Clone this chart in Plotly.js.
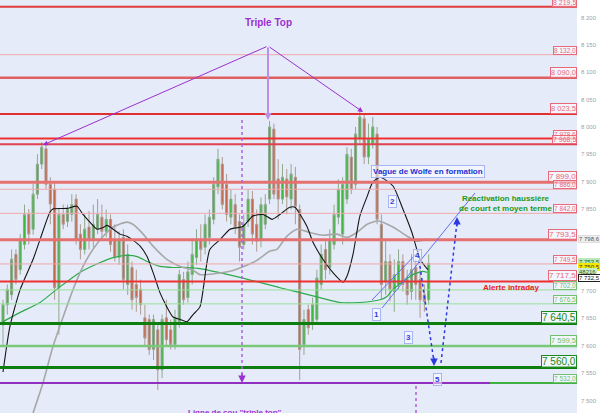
<!DOCTYPE html>
<html><head><meta charset="utf-8">
<script src="https://cdn.plot.ly/plotly-3.0.1.min.js"></script>
<style>html,body{margin:0;padding:0;background:#fff;}#chart{width:600px;height:413px;}</style>
</head><body><div id="chart"></div>
<script>
// ---- candle data (bar index 0..99) ----
const open  = [7638,7675,7693,7767,7739,7785,7840,7813,7877,7932,
7960,7895,7886,7706,7840,7827,7840,7868,7804,7776,
7817,7794,7813,7835,7809,7831,7794,7761,7798,7712,
7743,7712,7703,7651,7648,7593,7629,7556,7651,7629,
7602,7644,7721,7688,7730,7761,7794,7780,7798,7831,
7890,7932,7895,7835,7858,7827,7785,7827,7868,7822,
7794,7822,7868,7996,7905,7868,7905,7868,7908,7849,
7602,7666,7644,7648,7712,7776,7743,7785,7835,7804,
7868,7945,7895,7978,8015,7945,7969,7987,7822,7717,
7754,7699,7712,7754,7721,7699,7743,7721,7693,7684];
const high  = [7684,7712,7776,7776,7804,7858,7850,7896,7950,7972,
7969,7908,7901,7850,7858,7858,7877,7877,7822,7840,
7846,7858,7868,7858,7849,7840,7822,7809,7813,7785,
7754,7739,7721,7675,7657,7657,7638,7657,7684,7648,
7666,7739,7735,7754,7794,7813,7822,7840,7849,7908,
7960,7945,7914,7886,7877,7840,7840,7886,7883,7849,
7871,7877,8011,8006,7941,7932,7923,7932,7927,7858,
7666,7675,7688,7739,7785,7794,7813,7858,7904,7908,
7963,7960,8000,8029,8024,8006,8018,8000,7840,7794,
7767,7758,7776,7767,7739,7767,7758,7739,7712,7767];
const low   = [7601,7657,7684,7712,7730,7776,7785,7803,7868,7923,
7886,7822,7684,7620,7813,7817,7827,7785,7758,7767,
7776,7780,7804,7794,7798,7772,7754,7748,7703,7693,
7666,7662,7657,7601,7583,7574,7519,7541,7601,7593,
7593,7633,7675,7679,7712,7748,7754,7767,7785,7822,
7877,7849,7827,7822,7804,7754,7776,7817,7785,7772,
7780,7813,7859,7868,7831,7859,7840,7849,7822,7537,
7583,7620,7629,7638,7703,7721,7730,7776,7822,7785,
7859,7877,7886,7969,7932,7932,7960,7822,7684,7693,
7681,7662,7703,7699,7675,7684,7684,7651,7662,7675];
const close = [7675,7703,7758,7721,7794,7840,7804,7877,7932,7963,
7895,7859,7706,7840,7822,7849,7858,7794,7776,7813,
7794,7822,7840,7809,7831,7785,7761,7794,7721,7767,
7684,7688,7675,7614,7593,7648,7556,7648,7611,7602,
7651,7730,7684,7735,7767,7794,7776,7822,7835,7895,
7941,7858,7840,7868,7817,7780,7822,7868,7804,7791,
7858,7858,8000,7877,7868,7908,7872,7914,7855,7593,
7648,7633,7675,7724,7767,7739,7794,7840,7886,7895,
7950,7886,7987,8018,7945,7978,8000,7831,7712,7754,
7703,7730,7754,7712,7693,7739,7712,7684,7681,7750.5];

// ---- moving averages ----
const maShortX = [0,1.6,4.0,7.0,8.6,10.9,11.6,14.9,17.2,18.6,20.2,21.9,23.3,24.2,25.6,27.2,28.8,30.2,31.9,33.5,34.9,36.5,38.1,39.5,41.2,42.8,44.2,45.8,48.1,50.5,52.8,55.8,58.1,60.5,62.6,64.4,66.7,67.9,69.1,70.7,72.1,73.0,74.4,76.7,79.1,80.0,81.4,83.0,84.7,86.0,87.7,90.7,93.0,95.1,97.0,98.8];
const maShortY = [7552,7635,7703,7758,7794,7844,7850,7851,7855,7840,7826,7813,7816,7820,7813,7804,7800,7793,7782,7763,7734,7697,7671,7653,7648,7644,7657,7671,7776,7794,7813,7818,7837,7840,7831,7840,7853,7853,7840,7818,7789,7776,7758,7734,7716,7727,7767,7837,7873,7899,7908,7892,7850,7807,7758,7739];
const maMidX = [5.8,7.0,9.3,11.6,14.0,16.3,18.6,20.9,23.3,25.6,28.8,30.2,32.6,34.9,38.1,41.2,44.2,45.8,52.8,58.6,62.1,63.7,66.0,68.4,71.4,74.4,77.7,80.0,82.3,84.7,87.2,90.7,94.0,96.3,98.6];
const maMidY = [7445,7477,7532,7598,7653,7703,7745,7776,7800,7817,7826,7822,7804,7782,7758,7745,7738,7730,7736,7754,7773,7776,7800,7813,7807,7802,7804,7798,7807,7822,7828,7817,7800,7791,7795];
const maLongX = [0,4.0,8.6,13.3,17.9,22.6,25.6,28.8,31.2,33.5,36.5,39.5,42.8,45.8,55.1,64.4,69.1,73.7,78.4,83.0,87.7,89.3,90.7,93.0,95.3,97.7,98.6];
const maLongY = [7644,7661,7679,7708,7734,7752,7761,7765,7763,7754,7745,7743,7743,7741,7725,7706,7697,7688,7679,7679,7684,7690,7703,7717,7730,7736,7734];

// ---- horizontal levels ----
const levels = [8219.5,8132.0,8090.0,8023.5,7978.6,7968.5,7899.0,7886.0,7842.0,7793.5,7749.5,7717.5,7702.0,7676.5,7640.5,7599.5,7560.0,7532.0];
const levelLabels = ["8 219,5","8 132,0","8 090,0","8 023,5","7 978,6","7 968,5","7 899,0","7 886,0","7 842,0","7 793,5","7 749,5","7 717,5","7 702,0","7 676,5","7 640,5","7 599,5","7 560,0","7 532,0"];
const tickVals = [7500,7550,7600,7650,7700,7750,7800,7850,7900,7950,8000,8050,8100,8150,8200];
const tickText = ["7 500","7 550","7 600","7 650","7 700","","","7 850","7 900","7 950","8 000","8 050","8 100","8 150","8 200"];
const neckline = 7532.0;

// styles for the levels
const lvColor = ['#e03a3a','#f0a8a8','#e06060','#e03030','#f03030','#e04050','#e47070','#f0a8a8','#f0a8a8','#e47070','#f0a8a8','#ee3030','#98e098','#98e098','#0e7e0e','#78c878','#0e7e0e','#40b040'];
const lvWidth = [2,1,2.5,2,2,2,3,1,1,3,1,2,1,1,3,2.5,3,2];
const lvTxt   = ['#e86a7a','#e86a7a','#e86a7a','#e86a7a','#e86a7a','#e86a7a','#e86a7a','#e86a7a','#e86a7a','#e86a7a','#e86a7a','#e86a7a','#70c070','#70c070','#1a8a1a','#70c070','#1a8a1a','#70c070'];
const lvSize  = [7,6.5,7.5,7.5,6.5,7,8,6.5,6.5,8,6.5,8,6.5,6.5,10,7.5,10,6.5];

const W = 577, H = 413;
const px = x => x / W, py = y => 1 - y / H;

const shapes = [];
const annotations = [];
levels.forEach((v, i) => {
  shapes.push({type:'line', xref:'paper', x0:0, x1:1, yref:'y', y0:v, y1:v,
    line:{color:lvColor[i], width:lvWidth[i]}});
  annotations.push({xref:'paper', x:1, xanchor:'right', yref:'y', y:v, yanchor:'bottom',
    text:levelLabels[i], showarrow:false, font:{family:'Liberation Sans, Arial', size:lvSize[i], color:lvTxt[i]},
    bgcolor:'rgba(255,255,255,0.55)', bordercolor:lvTxt[i], borderwidth:1, borderpad:0});
});
// neckline (purple) over the 7532 green level
shapes.push({type:'line', xref:'paper', x0:0, x1:px(490), yref:'y', y0:neckline, y1:neckline, line:{color:'#9030c0', width:2}});

const purple = '#9b30d0';
// dotted verticals
shapes.push({type:'line', xref:'paper', yref:'paper', x0:px(242), x1:px(242), y0:py(120), y1:py(378), line:{color:'#b060e0', width:1.5, dash:'dot'}});
shapes.push({type:'line', xref:'paper', yref:'paper', x0:px(416), x1:px(416), y0:py(386), y1:py(413), line:{color:'#b060e0', width:1.5, dash:'dot'}});
// wolfe lines
shapes.push({type:'line', xref:'paper', yref:'paper', x0:px(382), x1:px(475), y0:py(308), y1:py(193), line:{color:'#6070f0', width:1}});
shapes.push({type:'line', xref:'paper', yref:'paper', x0:px(372), x1:px(420), y0:py(300), y1:py(250), line:{color:'#6070f0', width:1}});
shapes.push({type:'line', xref:'paper', yref:'paper', x0:px(419), x1:px(434), y0:py(260), y1:py(362), line:{color:'#2a3ae0', width:1.5, dash:'dot'}});
shapes.push({type:'line', xref:'paper', yref:'paper', x0:px(441), x1:px(457), y0:py(363), y1:py(222), line:{color:'#2a3ae0', width:1.5, dash:'dot'}});

function arrow(hx, hy, tx, ty, color, width, head, size) {
  annotations.push({xref:'paper', yref:'paper', x:px(hx), y:py(hy), ax:tx-hx, ay:ty-hy,
    text:'', showarrow:true, arrowcolor:color, arrowwidth:width, arrowhead:head, arrowsize:size||1, standoff:0});
}
function label(x, y, txt, size, color, box) {
  const a = {xref:'paper', yref:'paper', x:px(x), y:py(y), xanchor:'center', yanchor:'middle', text:txt, showarrow:false,
    font:{family:'Liberation Sans, Arial', size:size, color:color}};
  if (box) { a.bgcolor='rgba(255,255,255,0.5)'; a.bordercolor='#a8b4f4'; a.borderwidth=1; a.borderpad=1; }
  annotations.push(a);
}
// Triple top
arrow(43, 145, 268, 46, purple, 1, 2);
arrow(363, 112, 268, 46, purple, 1, 2);
arrow(268, 120, 268, 46, '#b890e8', 2, 2, 0.7);
arrow(242, 383, 242, 372, purple, 1.5, 2);
label(268, 22, '<b>Triple Top</b>', 10, purple);
annotations.push({xref:'paper', yref:'paper', x:px(186), xanchor:'left', y:py(406), yanchor:'top',
  text:'<b>Ligne de cou "triple top"</b>', showarrow:false, font:{family:'Liberation Sans, Arial', size:8, color:purple}});
// Wolfe
arrow(434, 366, 434, 356, '#2a3ae0', 1.5, 2);
arrow(457, 217, 457, 228, '#2a3ae0', 1.5, 2);
label(428, 171, '<b>Vague de Wolfe en formation</b>', 8, '#2030d0', true);
label(376, 314, '<b>1</b>', 8, '#3040e0', true);
label(392, 201, '<b>2</b>', 8, '#3040e0', true);
label(408, 337, '<b>3</b>', 8, '#3040e0', true);
label(417, 255, '<b>4</b>', 8, '#3040e0', true);
label(437, 379, '<b>5</b>', 8, '#3040e0', true);
label(505, 203, '<b>Reactivation haussière<br>de court et moyen terme</b>', 8, '#1a9a1a');
label(511, 287, '<b>Alerte intraday</b>', 8, '#e82020');

// right-side price tags
function tag(y, txt, bg, border, color) {
  annotations.push({xref:'paper', x:1, xanchor:'left', xshift:1, yref:'paper', y:py(y), yanchor:'middle', text:txt, showarrow:false,
    font:{family:'Liberation Sans, Arial', size:6, color:color}, bgcolor:bg, bordercolor:border, borderwidth:1, borderpad:0});
}
tag(239, '7 798,6', '#eeeeee', '#dddddd', '#555');
tag(262, '7 753,5', '#b8e8b8', '#b8e8b8', '#226622');
tag(267, '7 750,5', '#f4e800', '#f4e800', '#333');
tag(272, '48216', '#c8eec8', '#c8eec8', '#336633');
tag(278, '7 732,5', '#ffffff', '#222', '#111');

const idx = open.map((_, i) => i);
const traces = [
  {type:'candlestick', x:idx, open:open, high:high, low:low, close:close,
   increasing:{line:{color:'#8cab8c', width:1}, fillcolor:'#3cb83c'},
   decreasing:{line:{color:'#ad9a90', width:1}, fillcolor:'#c4664a'},
   whiskerwidth:0, hoverinfo:'skip', showlegend:false},
  {type:'scatter', mode:'lines', x:maLongX, y:maLongY, line:{color:'#2eaa4a', width:1.2, shape:'spline', smoothing:0.6}, hoverinfo:'skip', showlegend:false},
  {type:'scatter', mode:'lines', x:maMidX, y:maMidY, line:{color:'#a8a8a8', width:1.6, shape:'spline', smoothing:0.6}, hoverinfo:'skip', showlegend:false},
  {type:'scatter', mode:'lines', x:maShortX, y:maShortY, line:{color:'#151515', width:1.1, shape:'spline', smoothing:0.6}, hoverinfo:'skip', showlegend:false}
];

const layout = {
  width:600, height:413,
  margin:{l:0, r:23, t:0, b:0},
  paper_bgcolor:'#ffffff', plot_bgcolor:'#e6ebfa',
  showlegend:false,
  xaxis:{range:[-0.7, 133.5], showticklabels:false, showgrid:false, zeroline:false, rangeslider:{visible:false}, fixedrange:true},
  yaxis:{range:[7477, 8232], side:'right', tickvals:tickVals, ticktext:tickText, ticks:'', showgrid:false, zeroline:false,
         tickfont:{family:'Liberation Sans, Arial', size:6, color:'#a0a0a0'}, ticklabelstandoff:3},
  shapes:shapes, annotations:annotations
};
Plotly.newPlot('chart', traces, layout, {displayModeBar:false, staticPlot:true});
</script>
</body></html>
